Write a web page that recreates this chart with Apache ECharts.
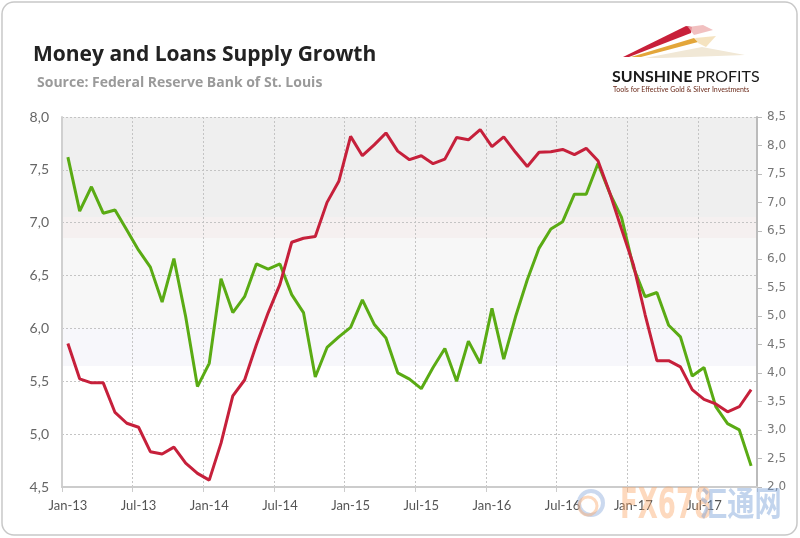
<!DOCTYPE html>
<html><head><meta charset="utf-8">
<script src="https://cdn.jsdelivr.net/npm/echarts@6/dist/echarts.min.js"></script>
<style>html,body{margin:0;padding:0;background:#fff}#c{width:800px;height:538px}</style>
</head><body><div id="c"></div>
<script>
const categories = [
 'Jan-13','Feb-13','Mar-13','Apr-13','May-13','Jun-13','Jul-13','Aug-13','Sep-13','Oct-13','Nov-13','Dec-13',
 'Jan-14','Feb-14','Mar-14','Apr-14','May-14','Jun-14','Jul-14','Aug-14','Sep-14','Oct-14','Nov-14','Dec-14',
 'Jan-15','Feb-15','Mar-15','Apr-15','May-15','Jun-15','Jul-15','Aug-15','Sep-15','Oct-15','Nov-15','Dec-15',
 'Jan-16','Feb-16','Mar-16','Apr-16','May-16','Jun-16','Jul-16','Aug-16','Sep-16','Oct-16','Nov-16','Dec-16',
 'Jan-17','Feb-17','Mar-17','Apr-17','May-17','Jun-17','Jul-17','Aug-17','Sep-17','Oct-17','Nov-17'];
// Money supply growth (left axis, %)
const moneySupply = [7.62,7.11,7.34,7.09,7.12,6.93,6.74,6.58,6.25,6.66,6.11,5.45,
 5.67,6.47,6.15,6.30,6.61,6.56,6.61,6.32,6.15,5.54,5.82,5.92,
 6.01,6.27,6.04,5.91,5.58,5.52,5.43,5.63,5.81,5.50,5.88,5.67,
 6.19,5.71,6.11,6.46,6.76,6.94,7.01,7.27,7.27,7.56,7.28,7.05,
 6.58,6.30,6.34,6.03,5.92,5.55,5.63,5.26,5.10,5.04,4.70];
// Loans growth (right axis, %)
const loans = [4.52,3.90,3.83,3.83,3.31,3.12,3.05,2.62,2.58,2.70,2.42,2.24,
 2.12,2.77,3.60,3.88,4.50,5.06,5.56,6.30,6.37,6.40,7.00,7.37,
 8.16,7.82,8.01,8.22,7.90,7.75,7.82,7.68,7.76,8.14,8.10,8.28,
 7.98,8.15,7.88,7.63,7.88,7.89,7.93,7.84,7.95,7.73,7.17,6.53,
 5.91,5.03,4.22,4.22,4.11,3.71,3.54,3.46,3.32,3.41,3.71];
const leftTicks = {min:4.5, max:8.0, step:0.5};
const rightTicks = {min:2.0, max:8.5, step:0.5};

const chart = echarts.init(document.getElementById('c'), null, {renderer:'canvas'});
const fmt = v => v.toFixed(1).replace('.', ',');
const bg = new echarts.graphic.LinearGradient(0,0,0,1,[
 {offset:0,color:'#efefef'},{offset:0.271,color:'#efefef'},
 {offset:0.271,color:'#f5f0f0'},{offset:0.326,color:'#f5f0f0'},
 {offset:0.326,color:'#f7f7f7'},{offset:0.571,color:'#f7f7f7'},
 {offset:0.571,color:'#f7f7fb'},{offset:0.674,color:'#f7f7fb'},
 {offset:0.674,color:'#ffffff'},{offset:1,color:'#ffffff'}]);
chart.setOption({
 animation:false,
 backgroundColor:'#fff',
 grid:{left:62, right:43, top:117, bottom:51, show:true, backgroundColor:bg, borderWidth:0},
 xAxis:{type:'category', data:categories, boundaryGap:true,
  axisLine:{show:true, lineStyle:{color:'#cccccc', width:2}},
  axisTick:{show:true, interval:5, length:5, lineStyle:{color:'#cccccc'}},
  axisLabel:{interval:5, color:'#555', fontFamily:'Lato', fontSize:13, margin:12},
  splitLine:{show:true, interval:5, lineStyle:{color:'#c4c4c4', type:[2,2], width:1}}},
 yAxis:[
  {type:'value', min:leftTicks.min, max:leftTicks.max, interval:leftTicks.step, position:'left',
   axisLine:{show:true, lineStyle:{color:'#d0d0d0', width:2}}, axisTick:{show:false},
   axisLabel:{formatter:fmt, color:'#666', fontFamily:'Lato', fontSize:14, margin:13},
   splitLine:{show:true, lineStyle:{color:'#c4c4c4', type:[2,2], width:1}}},
  {type:'value', min:rightTicks.min, max:rightTicks.max, interval:rightTicks.step, position:'right',
   axisLine:{show:true, lineStyle:{color:'#bbbbbb', width:2}},
   axisTick:{show:true, length:5, lineStyle:{color:'#bbbbbb'}},
   axisLabel:{formatter:fmt, color:'#777', fontFamily:'DejaVu Sans', fontSize:12, margin:10},
   splitLine:{show:false}}
 ],
 series:[
  {name:'Money supply growth', type:'line', yAxisIndex:0, data:moneySupply, showSymbol:false, symbol:'none',
   lineStyle:{color:'#5aab14', width:3}, itemStyle:{color:'#5aab14'}},
  {name:'Loans growth', type:'line', yAxisIndex:1, data:loans, showSymbol:false, symbol:'none',
   lineStyle:{color:'#c6203b', width:3}, itemStyle:{color:'#c6203b'}}
 ],
 graphic:[
  {type:'rect', shape:{x:2, y:2, width:795, height:533, r:12}, style:{fill:'none', stroke:'#c8c8c8', lineWidth:1.5}, z:100},
  {type:'text', x:33, y:45, style:{text:'Money and Loans Supply Growth', font:'bold 21px "Open Sans"', fill:'#222'}},
  {type:'text', x:37, y:76, style:{text:'Source: Federal Reserve Bank of St. Louis', font:'bold 14px "Open Sans"', fill:'#9a9a9a'}},
  // logo swooshes
  {type:'polygon', shape:{points:[[623,57],[686,26],[692,27],[691,33],[629,57]]}, style:{fill:'#c8203a'}},
  {type:'polygon', shape:{points:[[688,27],[703,25],[713,30],[694,35]]}, style:{fill:'#eeb0b0', opacity:0.8}},
  {type:'polygon', shape:{points:[[631,57],[694,38],[698,42],[641,57]]}, style:{fill:'#e3a63a'}},
  {type:'polygon', shape:{points:[[695,38],[716,36],[706,47],[698,43]]}, style:{fill:'#f2dcb0', opacity:0.8}},
  {type:'polygon', shape:{points:[[645,58],[702,47],[745,55],[662,58]]}, style:{fill:'#f1e8d6'}},
  {type:'text', x:612, y:69, style:{text:'{b|SUNSHINE} {r|PROFITS}', rich:{b:{font:'bold 16px Lato', fill:'#1a1a1a'}, r:{font:'16px Lato', fill:'#1a1a1a'}}}},
  {type:'text', x:613, y:86, style:{text:'Tools for Effective Gold & Silver Investments', font:'7px Lato', fill:'#6b2a1a'}},
  // watermark
  {type:'circle', shape:{cx:591, cy:503, r:12}, style:{fill:'none', stroke:'rgba(140,170,220,0.45)', lineWidth:4}, z:90},
  {type:'circle', shape:{cx:588, cy:506, r:9}, style:{fill:'none', stroke:'rgba(250,170,110,0.45)', lineWidth:3}, z:90},
  {type:'text', x:620, y:486, scaleX:0.62, style:{text:'FX678', font:'bold 42px "DejaVu Sans"', fill:'rgba(250,165,100,0.42)'}, z:90},
  {type:'text', x:700, y:486, scaleX:0.8, style:{text:'汇通网', font:'bold 34px "Noto Sans CJK SC"', fill:'rgba(120,160,215,0.45)'}, z:90}
 ]
});
</script></body></html>
